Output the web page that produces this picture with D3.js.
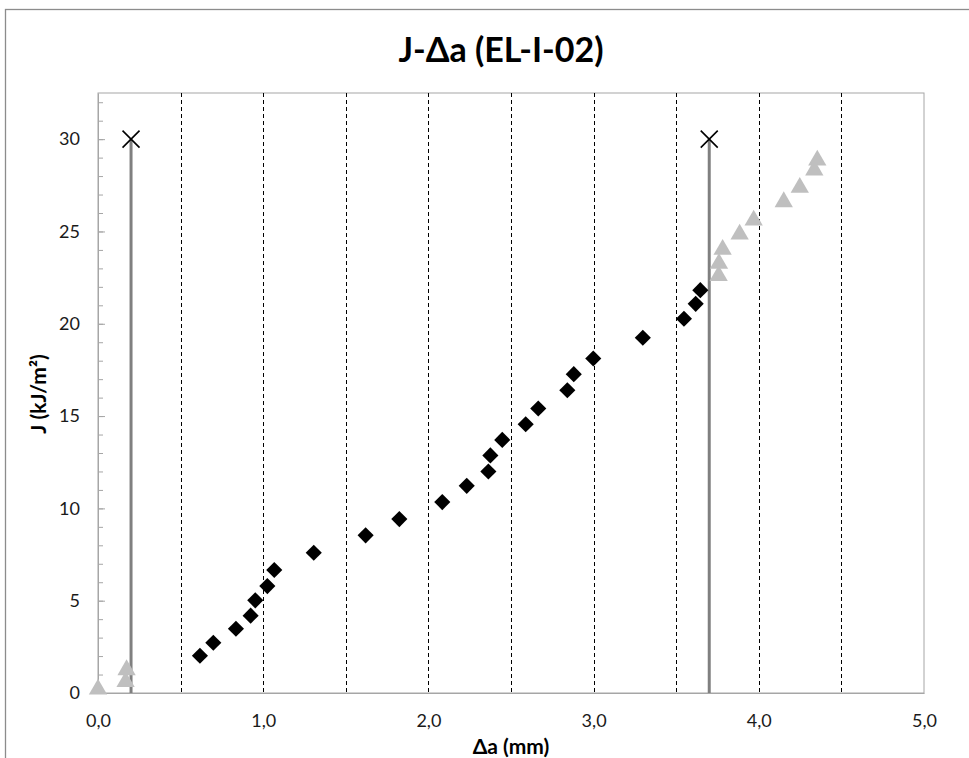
<!DOCTYPE html>
<html>
<head>
<meta charset="utf-8">
<script src="https://cdn.jsdelivr.net/npm/d3@7/dist/d3.min.js"></script>
<style>
  html, body { margin: 0; padding: 0; background: #fff; }
  svg { display: block; font-family: Lato, "Open Sans", sans-serif; }
</style>
</head>
<body>
<svg id="chart" width="969" height="758"></svg>
<script>
// Valid J-Δa data points (black diamonds)
const validDa = [0.617, 0.698, 0.835, 0.924, 0.952, 1.025, 1.067, 1.306, 1.62, 1.824,
  2.084, 2.232, 2.363, 2.375, 2.447, 2.589, 2.665, 2.841, 2.88, 2.998,
  3.298, 3.547, 3.618, 3.646];
const validJ = [2.02, 2.72, 3.48, 4.19, 5.02, 5.79, 6.66, 7.6, 8.54, 9.42,
  10.34, 11.22, 12.0, 12.87, 13.71, 14.56, 15.41, 16.4, 17.27, 18.12,
  19.24, 20.27, 21.08, 21.82];

// Excluded data points (grey triangles)
const excludedDa = [0.0, 0.167, 0.173, 3.757, 3.759, 3.781, 3.884, 3.969, 4.151, 4.248, 4.336, 4.354];
const excludedJ = [0.2, 0.61, 1.25, 22.6, 23.26, 24.02, 24.85, 25.61, 26.6, 27.38, 28.32, 28.86];

// Exclusion limits (solid grey verticals ending in a cross)
const limitDa = [0.2, 3.7];
const limitJ = 30;

// Dashed reference verticals
const guideDa = [0.5, 1.0, 1.5, 2.0, 2.5, 3.0, 3.5, 4.0, 4.5];

// Axis ticks
const xTicks = [0, 1, 2, 3, 4, 5];
const yTicks = [0, 5, 10, 15, 20, 25, 30];
const yMinorTicks = d3.range(0, 33, 1);

const svg = d3.select("#chart");
const margin = { left: 98, top: 93, right: 924, bottom: 693 };

const x = d3.scaleLinear().domain([0, 5]).range([margin.left, margin.right]);
const y = d3.scaleLinear().domain([0, 32.5]).range([margin.bottom, margin.top]);

// Outer chart frame
svg.append("rect")
  .attr("x", 5.5).attr("y", 9.5).attr("width", 1000).attr("height", 1000)
  .attr("fill", "#fff").attr("stroke", "#8c8c8c").attr("stroke-width", 1.3);

// Title
svg.append("text")
  .attr("x", 501).attr("y", 62)
  .attr("text-anchor", "middle")
  .attr("font-size", 34).attr("font-weight", "bold").attr("fill", "#000")
  .text("J-Δa (EL-I-02)");

// Plot area border
svg.append("rect")
  .attr("x", margin.left).attr("y", margin.top)
  .attr("width", margin.right - margin.left).attr("height", margin.bottom - margin.top)
  .attr("fill", "none").attr("stroke", "#a6a6a6").attr("stroke-width", 1);

// Dashed verticals
svg.append("g").selectAll("line").data(guideDa).join("line")
  .attr("x1", d => Math.round(x(d)) + 0.5).attr("x2", d => Math.round(x(d)) + 0.5)
  .attr("y1", margin.top).attr("y2", margin.bottom)
  .attr("stroke", "#000").attr("stroke-width", 1)
  .attr("stroke-dasharray", "4,3");

// Y axis with inner minor ticks
const yAxisMinor = d3.axisRight(y).tickValues(yMinorTicks).tickSize(5).tickFormat("");
const gMinor = svg.append("g").attr("transform", `translate(${margin.left},0)`).call(yAxisMinor);
gMinor.select(".domain").remove();
gMinor.selectAll("line").attr("stroke", "#a6a6a6");

const yAxis = d3.axisLeft(y).tickValues(yTicks).tickSize(0).tickPadding(18)
  .tickFormat(d3.format("d"));
const gy = svg.append("g").attr("transform", `translate(${margin.left},0)`).call(yAxis);
gy.select(".domain").attr("stroke", "#a6a6a6");
gy.selectAll("text").attr("font-size", 18).attr("fill", "#1a1a1a")
  .attr("font-family", "Lato, sans-serif");
gy.selectAll(".tick").append("line").attr("x1", 0).attr("x2", 7).attr("stroke", "#a6a6a6");

// X axis
const xAxis = d3.axisBottom(x).tickValues(xTicks).tickSize(0).tickPadding(21)
  .tickFormat(d => d.toFixed(1).replace(".", ","));
const gx = svg.append("g").attr("transform", `translate(0,${margin.bottom})`).call(xAxis);
gx.select(".domain").attr("stroke", "#a6a6a6");
gx.selectAll("text").attr("font-size", 18).attr("fill", "#1a1a1a")
  .attr("font-family", "Lato, sans-serif");

// Axis titles
svg.append("text")
  .attr("transform", `translate(46,${(margin.top + margin.bottom) / 2 + 1}) rotate(-90)`)
  .attr("text-anchor", "middle")
  .attr("font-size", 21).attr("font-weight", "bold")
  .text("J (kJ/m²)");

svg.append("text")
  .attr("x", (margin.left + margin.right) / 2).attr("y", 754)
  .attr("text-anchor", "middle")
  .attr("font-size", 21).attr("font-weight", "bold")
  .text("Δa (mm)");

// Exclusion limit lines
svg.append("g").selectAll("line").data(limitDa).join("line")
  .attr("x1", d => x(d)).attr("x2", d => x(d))
  .attr("y1", y(0)).attr("y2", y(limitJ))
  .attr("stroke", "#808080").attr("stroke-width", 3);

const cross = d3.symbol().type(d3.symbolTimes).size(190);
svg.append("g").selectAll("path").data(limitDa).join("path")
  .attr("transform", d => `translate(${x(d)},${y(limitJ)})`)
  .attr("d", cross)
  .attr("fill", "none").attr("stroke", "#000").attr("stroke-width", 1.6);

// Excluded points
const tri = d3.symbol().type(d3.symbolTriangle).size(145);
svg.append("g").selectAll("path").data(excludedDa.map((d, i) => [d, excludedJ[i]])).join("path")
  .attr("transform", d => `translate(${x(d[0])},${y(d[1])})`)
  .attr("d", tri)
  .attr("fill", "#bfbfbf");

// Valid points
const diamond = d3.symbol().type(d3.symbolSquare).size(130);
svg.append("g").selectAll("path").data(validDa.map((d, i) => [d, validJ[i]])).join("path")
  .attr("transform", d => `translate(${x(d[0])},${y(d[1])}) rotate(45)`)
  .attr("d", diamond)
  .attr("fill", "#000");
</script>
</body>
</html>
